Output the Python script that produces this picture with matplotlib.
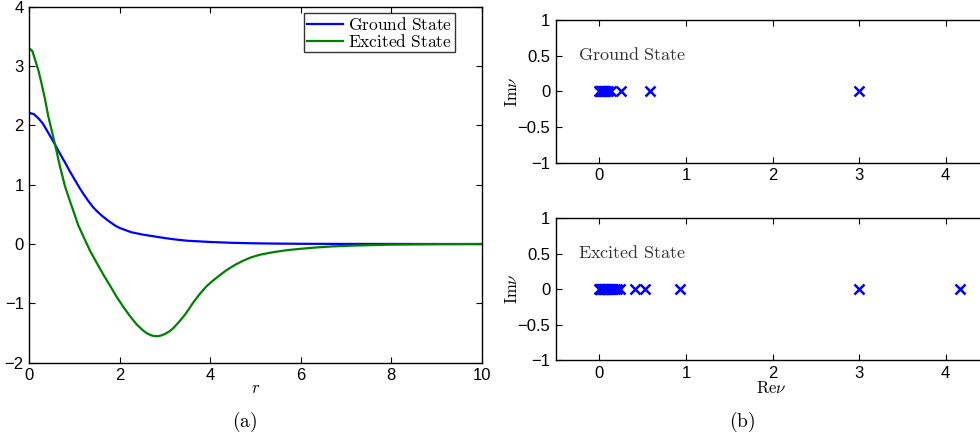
import numpy as np
import matplotlib
matplotlib.use('Agg')
import matplotlib.pyplot as plt

plt.rcParams['font.family'] = ['Liberation Sans', 'DejaVu Sans']
plt.rcParams['mathtext.fontset'] = 'cm'
plt.rcParams['axes.unicode_minus'] = True

# (a) wave functions
r_ground = [0, 0.1, 0.2, 0.3, 0.4, 0.5, 0.58, 0.68, 0.8, 0.9, 1.0, 1.1, 1.2, 1.3, 1.4, 1.5,
            1.6, 1.75, 1.9, 2.0, 2.25, 2.5, 2.75, 3.0, 3.25, 3.5, 4.0, 4.5, 5.0, 5.5, 6.0,
            7.0, 8.0, 10.0]
ground = [2.21, 2.19, 2.12, 2.03, 1.90, 1.77, 1.66, 1.52, 1.36, 1.22, 1.09, 0.96, 0.84, 0.73,
          0.63, 0.55, 0.48, 0.39, 0.31, 0.27, 0.20, 0.16, 0.13, 0.10, 0.075, 0.055, 0.035,
          0.02, 0.012, 0.007, 0.004, 0.002, 0.001, 0.0]

r_excited = [0, 0.07, 0.13, 0.2, 0.27, 0.35, 0.42, 0.5, 0.58, 0.68, 0.79, 0.9, 1.0, 1.08,
             1.23, 1.34, 1.5, 1.64, 1.8, 1.93, 2.08, 2.23, 2.38, 2.52, 2.6, 2.7, 2.78, 2.85,
             2.92, 3.0, 3.1, 3.18, 3.3, 3.4, 3.48, 3.55, 3.62, 3.7, 3.77, 3.85, 3.92, 4.0,
             4.07, 4.22, 4.36, 4.55, 4.73, 4.9, 5.1, 5.3, 5.47, 5.7, 5.95, 6.3, 6.7, 7.2,
             8.0, 9.0, 10.0]
excited = [3.30, 3.25, 3.10, 2.93, 2.71, 2.43, 2.15, 1.90, 1.64, 1.30, 0.97, 0.72, 0.50, 0.32,
           0.07, -0.11, -0.33, -0.52, -0.72, -0.89, -1.06, -1.22, -1.36, -1.46, -1.505,
           -1.54, -1.553, -1.553, -1.54, -1.515, -1.47, -1.42, -1.32, -1.23, -1.15, -1.07,
           -0.99, -0.91, -0.84, -0.77, -0.71, -0.655, -0.61, -0.52, -0.44, -0.35, -0.28,
           -0.225, -0.18, -0.15, -0.128, -0.103, -0.084, -0.06, -0.04, -0.025, -0.01,
           -0.003, 0.0]

# (b) eigenvalues nu (all real)
nu_ground = [0.0, 0.005, 0.01, 0.015, 0.02, 0.03, 0.04, 0.05, 0.06, 0.07, 0.08, 0.1,
             0.14, 0.25, 0.59, 3.0]
nu_excited = [0.0, 0.005, 0.01, 0.02, 0.03, 0.04, 0.05, 0.06, 0.07, 0.08, 0.09, 0.1,
              0.12, 0.14, 0.16, 0.18, 0.2, 0.24, 0.41, 0.53, 0.93, 3.0, 4.17]

W, H = 980, 440
fig = plt.figure(figsize=(W / 100, H / 100), dpi=100)


def style(ax):
    ax.tick_params(direction='in', top=True, right=True, labelsize=12,
                   length=4, width=0.8, pad=4)
    for s in ax.spines.values():
        s.set_linewidth(1.0)


# left panel
ax1 = fig.add_axes([29.3 / W, 1 - 362.7 / H, 452.4 / W, 356 / H])
ax1.plot(r_ground, ground, color='#0000ff', lw=1.6, label=r'$\mathrm{Ground\ State}$')
ax1.plot(r_excited, excited, color='#008000', lw=1.6, label=r'$\mathrm{Excited\ State}$')
ax1.set_xlim(0, 10)
ax1.set_ylim(-2, 4)
ax1.set_xticks([0, 2, 4, 6, 8, 10])
ax1.set_yticks([-2, -1, 0, 1, 2, 3, 4])
style(ax1)
leg = ax1.legend(loc='upper right', bbox_to_anchor=(0.941, 0.9815), fontsize=12.5,
                 frameon=True, fancybox=False, edgecolor='black', handlelength=2.1,
                 handletextpad=0.3, borderpad=0.15, labelspacing=0.0, borderaxespad=0)
leg.get_frame().set_linewidth(1.0)

# right panels
def eig_panel(top_px, bottom_px, vals, name):
    ax = fig.add_axes([556 / W, 1 - bottom_px / H, 433 / W, (bottom_px - top_px) / H])
    ax.plot(vals, np.zeros(len(vals)), 'x', color='#0000ff', ms=7, mew=1.8)
    ax.set_xlim(-0.5, 4.5)
    ax.set_ylim(-1, 1)
    ax.set_xticks([0, 1, 2, 3, 4])
    ax.set_yticks([-1, -0.5, 0, 0.5, 1])
    ax.set_yticklabels(['\u22121', '\u22120.5', '0', '0.5', '1'])
    style(ax)
    ax.text(-0.25, 0.5, r'$\mathrm{' + name.replace(' ', r'\ ') + '}$', fontsize=13,
            va='center', ha='left', color='#333333')
    return ax

ax2 = eig_panel(20, 162.7, nu_ground, 'Ground State')
ax3 = eig_panel(218.3, 360, nu_excited, 'Excited State')

fig.text(511.7 / W, 1 - 91.7 / H, r'$\mathrm{Im}\nu$', rotation=90, ha='center', va='center', fontsize=12)
fig.text(511.7 / W, 1 - 289 / H, r'$\mathrm{Im}\nu$', rotation=90, ha='center', va='center', fontsize=12)
fig.text(771.7 / W, 1 - 388 / H, r'$\mathrm{Re}\nu$', ha='center', va='center', fontsize=12)
fig.text(255.5 / W, 1 - 388 / H, r'$r$', ha='center', va='center', fontsize=12)
fig.text(245 / W, 1 - 422 / H, r'$\mathrm{(a)}$', ha='center', va='center', fontsize=14)
fig.text(742 / W, 1 - 422 / H, r'$\mathrm{(b)}$', ha='center', va='center', fontsize=14)

fig.savefig('out.png', dpi=100)
